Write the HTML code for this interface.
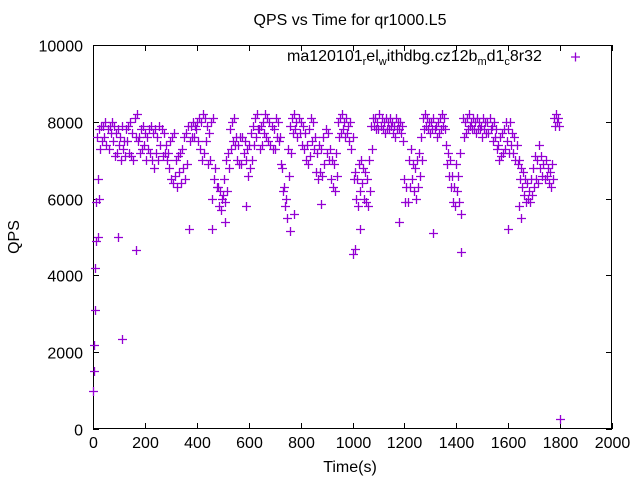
<!DOCTYPE html>
<html><head><meta charset="utf-8"><style>
html,body{margin:0;padding:0;background:#fff}
svg{display:block;font-family:"Liberation Sans",sans-serif}
</style></head><body>
<svg id="chart" width="640" height="480" viewBox="0 0 640 480" xmlns="http://www.w3.org/2000/svg">
<text x="350" y="25" font-size="16" text-anchor="middle">QPS vs Time for qr1000.L5</text>
<text transform="translate(19,237) rotate(-90)" font-size="16" text-anchor="middle">QPS</text>
<text x="350" y="472" font-size="16" text-anchor="middle">Time(s)</text>
<g id="axes"></g>
<g id="marks"></g>
<text x="287" y="61" font-size="16">ma120101<tspan font-size="11" dy="4">r</tspan><tspan dy="-4">el</tspan><tspan font-size="11" dy="4">w</tspan><tspan dy="-4">ithdbg.cz12b</tspan><tspan font-size="11" dy="4">m</tspan><tspan dy="-4">d1</tspan><tspan font-size="11" dy="4">c</tspan><tspan dy="-4">8r32</tspan></text>
<path d="M571 57h9M575.5 52.5v9" stroke="#9400d3" stroke-width="1.3"/>
</svg>
<script>
const xTicks=[0,200,400,600,800,1000,1200,1400,1600,1800,2000];
const yTicks=[0,2000,4000,6000,8000,10000];
const times=[0,8,16,24,32,40,48,56,64,72,80,88,96,104,112,120,128,136,144,152,160,168,176,184,192,200,208,216,224,232,240,248,256,264,272,280,288,296,304,312,320,328,336,344,352,360,368,376,384,392,400,408,416,424,432,440,448,456,464,472,480,488,496,504,512,520,528,536,544,552,560,568,576,584,592,600,608,616,624,632,640,648,656,664,672,680,688,696,704,712,720,728,736,744,752,760,768,776,784,792,800,808,816,824,832,840,848,856,864,872,880,888,896,904,912,920,928,936,944,952,960,968,976,984,992,1000,1008,1016,1024,1032,1040,1048,1056,1064,1072,1080,1088,1096,1104,1112,1120,1128,1136,1144,1152,1160,1168,1176,1184,1192,1200,1208,1216,1224,1232,1240,1248,1256,1264,1272,1280,1288,1296,1304,1312,1320,1328,1336,1344,1352,1360,1368,1376,1384,1392,1400,1408,1416,1424,1432,1440,1448,1456,1464,1472,1480,1488,1496,1504,1512,1520,1528,1536,1544,1552,1560,1568,1576,1584,1592,1600,1608,1616,1624,1632,1640,1648,1656,1664,1672,1680,1688,1696,1704,1712,1720,1728,1736,1744,1752,1760,1768,1776,1784,1792];
const qpsA=[1000,4200,7600,7800,7900,7900,8000,7800,7900,8000,
7900,7700,7800,7600,7900,7500,7800,7900,8000,7700,
8100,8200,7600,7800,7900,7700,7600,7800,7900,7700,
7800,7600,7900,7800,7700,7400,7200,7500,7600,7700,
7000,7100,7200,7300,7600,7700,7900,7900,8000,7900,
8000,8100,8000,8200,8100,7900,7700,8000,8100,6800,
6300,6200,6000,6500,7000,7200,7800,8000,8100,7600,
7400,7600,7600,7500,7300,7400,7700,7900,8100,8200,
7800,7900,8000,8200,8100,8000,7900,7800,8100,8000,
7600,6800,6300,6000,7300,7900,8100,8200,8000,8100,
8000,7900,7700,7400,7800,8100,8000,7600,7200,7400,
7300,7600,7800,7700,7300,7000,6900,7200,8000,8100,
8200,8000,8100,7900,8000,7600,6700,6500,6900,7000,
6800,6700,6500,7000,7900,8100,8100,8000,8200,8100,
8000,8100,8000,8100,8000,7900,8100,8000,8000,7900,
6500,6300,7000,7300,6900,6800,7000,7200,7600,8100,
8200,8100,8000,8000,8100,7900,8000,8100,8200,8100,
7400,7200,7000,6600,6300,6900,6600,7200,8100,8000,
8100,8200,8000,8100,8000,8100,8000,7900,8100,8000,
8000,8100,7900,8000,7800,7400,7600,7700,7800,8000,
7800,8000,7700,7600,7400,7000,6800,6700,6500,6400,
6200,6500,6800,7100,7000,7400,7100,6900,7000,6800,
6700,6900,8100,8200,8100];
const qpsB=[2200,5900,6500,7300,7500,7600,7400,7300,7700,7500,
7100,7200,7400,7000,7300,7100,7500,7200,7100,7000,
7600,7500,7200,7300,7400,7000,7300,7200,7000,6800,
7200,7000,7400,7100,7200,7000,6800,6500,6400,6600,
6300,6700,6400,6800,6500,6900,7500,7600,7600,7800,
7500,7300,7000,7200,7500,6900,7000,6000,6500,6300,
5800,5700,6100,5900,6200,6800,7300,7500,7400,7000,
6900,6900,7200,7000,6600,6800,7000,7400,7600,7800,
7300,7400,7700,7600,7500,7400,7300,7300,7600,7500,
6900,6200,5800,5500,6600,7200,7700,7800,7600,7700,
7400,7300,7000,6900,7100,7500,7300,6700,6500,6700,
6600,6900,7200,7000,6500,6300,6200,6600,7600,7700,
7800,7600,7700,7500,7300,6500,6000,5800,6200,6400,
6000,5900,5800,6200,7300,7900,7800,7800,7900,7800,
7700,7800,7800,7900,7700,7600,7800,7800,7700,7500,
5900,5900,6300,6500,6200,6000,6300,6600,7000,7800,
7900,7800,7700,7800,7800,7600,7700,7800,7900,7800,
6900,6600,6300,5900,5800,6200,5900,5600,7600,7700,
7800,7900,7800,7800,7700,7800,7800,7600,7800,7700,
7700,7800,7500,7600,7300,7000,7100,7200,7300,7500,
7200,7400,7200,7000,6900,6500,6300,6100,5900,6000,
5900,6100,6300,6500,6400,6800,6600,6500,6600,6400,
6300,6500,7900,8000,7900];
const outlierTimes=[5,8,12,20,25,95,110,165,370,460,510,590,760,775,880,1000,1010,1030,1180,1310,1420,1600,1640,1650,1800];
const outlierQps=[1500,3100,4900,5000,6000,5000,2350,4650,5200,5200,5400,5800,5150,5600,5850,4550,4700,5200,5400,5100,4600,5200,5800,5500,250];

const L=93,R=612,T=45,B=429;
function xs(t){return L+(t/2000)*(R-L);}
function ys(q){return B-(q/10000)*(B-T);}
const NS="http://www.w3.org/2000/svg";
const axes=document.getElementById('axes');
const marks=document.getElementById('marks');
function mk(tag,attrs,parent){const e=document.createElementNS(NS,tag);for(const k in attrs)e.setAttribute(k,attrs[k]);parent.appendChild(e);return e;}
const frame=mk('rect',{x:L+0.5,y:T+0.5,width:R-L-1,height:B-T-1,fill:'none',stroke:'#000','stroke-width':1},axes);


xTicks.forEach(v=>{
  const x=Math.round(xs(v))+0.5;
  const tk=mk('path',{d:`M${x} ${B}v-6M${x} ${T}v6`,stroke:'#000','stroke-width':1},axes);
  
  
  const lb=mk('text',{x:x,y:B+19,'font-size':16,'text-anchor':'middle'},axes);
  lb.textContent=v;
  
  
});
yTicks.forEach(v=>{
  const y=Math.round(ys(v))+0.5;
  const tk=mk('path',{d:`M${L} ${y}h6M${R} ${y}h-6`,stroke:'#000','stroke-width':1},axes);
  
  
  const lb=mk('text',{x:L-10,y:y+6,'font-size':16,'text-anchor':'end'},axes);
  lb.textContent=v;
  
  
});
function plus(t,q){
  const x=Math.round(xs(t))+0.5,y=Math.round(ys(q))+0.5;
  const p=mk('path',{d:`M${x-4.5} ${y}h9M${x} ${y-4.5}v9`,stroke:'#9400d3','stroke-width':1.3},marks);
  
  
}
times.forEach((t,i)=>{plus(t,qpsA[i]);plus(t+4,qpsB[i]);});
outlierTimes.forEach((t,i)=>plus(t,outlierQps[i]));
</script>
</body></html>
